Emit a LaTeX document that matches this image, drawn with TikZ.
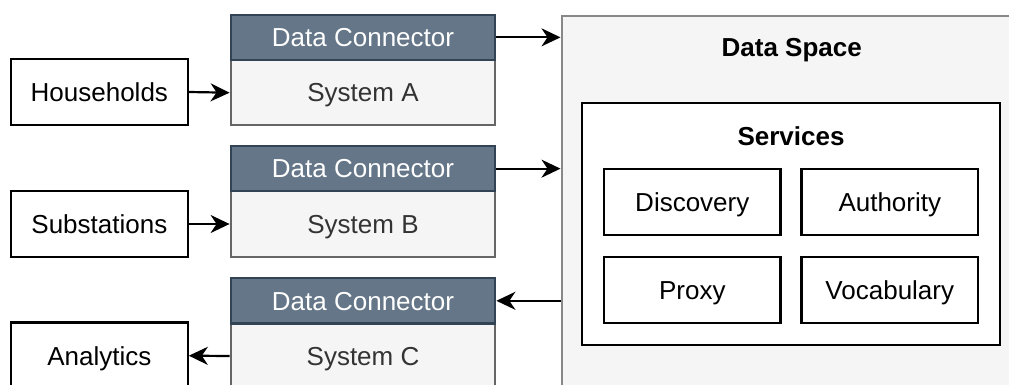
\documentclass[tikz,border=0pt]{standalone}
\usepackage{fontspec}
\setmainfont{Liberation Sans}
\usetikzlibrary{arrows.meta}
\definecolor{hdrfill}{HTML}{647687}
\definecolor{hdrline}{HTML}{314354}
\definecolor{bodyfill}{HTML}{F5F5F5}
\definecolor{bodyline}{HTML}{666666}
\definecolor{bodytext}{HTML}{333333}
\definecolor{spaceline}{HTML}{888888}
\tikzset{
  lbl/.style={font=\fontsize{26}{31}\selectfont, inner sep=0pt, anchor=center,
    text height=18.6pt, text depth=0pt},
  plainbox/.style={lbl, draw=black, fill=white, line width=2.2pt},
  hdrbox/.style={lbl, draw=hdrline, fill=hdrfill, text=white, line width=2.2pt,
    minimum width=264.6pt, minimum height=45.3pt},
  bodybox/.style={lbl, draw=bodyline, fill=bodyfill, text=bodytext, line width=2.2pt,
    minimum width=264.6pt, minimum height=65.4pt},
  srcbox/.style={plainbox, minimum width=176.7pt, minimum height=66.6pt},
  svcbox/.style={plainbox, minimum width=176.5pt, minimum height=66pt},
  flow/.style={line width=2.2pt, -{Stealth[length=19pt,width=18pt,inset=6pt]}}
}
\begin{document}
\begin{tikzpicture}[x=1pt,y=-1pt]
\useasboundingbox (0,0) rectangle (1009,385);
\clip (0,0) rectangle (1009,385);

% data space container (runs past the right and bottom edges)
\node[lbl, draw=spaceline, fill=bodyfill, line width=2.2pt, anchor=north west,
  minimum width=480pt, minimum height=400pt] (ds) at (560.5,15) {};
\node[lbl, font=\fontsize{26}{31}\selectfont\bfseries] (dslabel) at (791.7,47.5) {Data Space};

% services group
\node[plainbox, minimum width=418pt, minimum height=242pt] (svc) at (791,224) {};
\node[lbl, font=\fontsize{26}{31}\selectfont\bfseries] (svclabel) at (791,136) {Services};
\node[svcbox] (disc) at (692.3,202) {Discovery};
\node[svcbox] (auth) at (889.8,202) {Authority};
\node[svcbox] (proxy) at (692.3,289.7) {Proxy};
\node[svcbox] (vocab) at (889.8,289.7) {Vocabulary};

% systems with their data connectors
\node[bodybox] (sysA) at (363,92.7) {System A};
\node[hdrbox] (conA) at (363,37.35) {Data Connector};
\node[bodybox] (sysB) at (363,224) {System B};
\node[hdrbox] (conB) at (363,168.65) {Data Connector};
\node[bodybox] (sysC) at (363,356) {System C};
\node[hdrbox] (conC) at (363,300.8) {Data Connector};

% data sources and consumers
\node[srcbox] (house) at (99.35,92) {Households};
\node[srcbox] (subst) at (99.35,224) {Substations};
\node[srcbox] (anal) at (99.35,355.7) {Analytics};

% flows
\draw[flow] (house.east) -- (sysA.west);
\draw[flow] (subst.east) -- (sysB.west);
\draw[flow] (sysC.west) -- (anal.east);
\draw[flow] (conA.east) -- (conA.east -| ds.west);
\draw[flow] (conB.east) -- (conB.east -| ds.west);
\draw[flow] (conC.east -| ds.west) -- (conC.east);
\end{tikzpicture}
\end{document}
